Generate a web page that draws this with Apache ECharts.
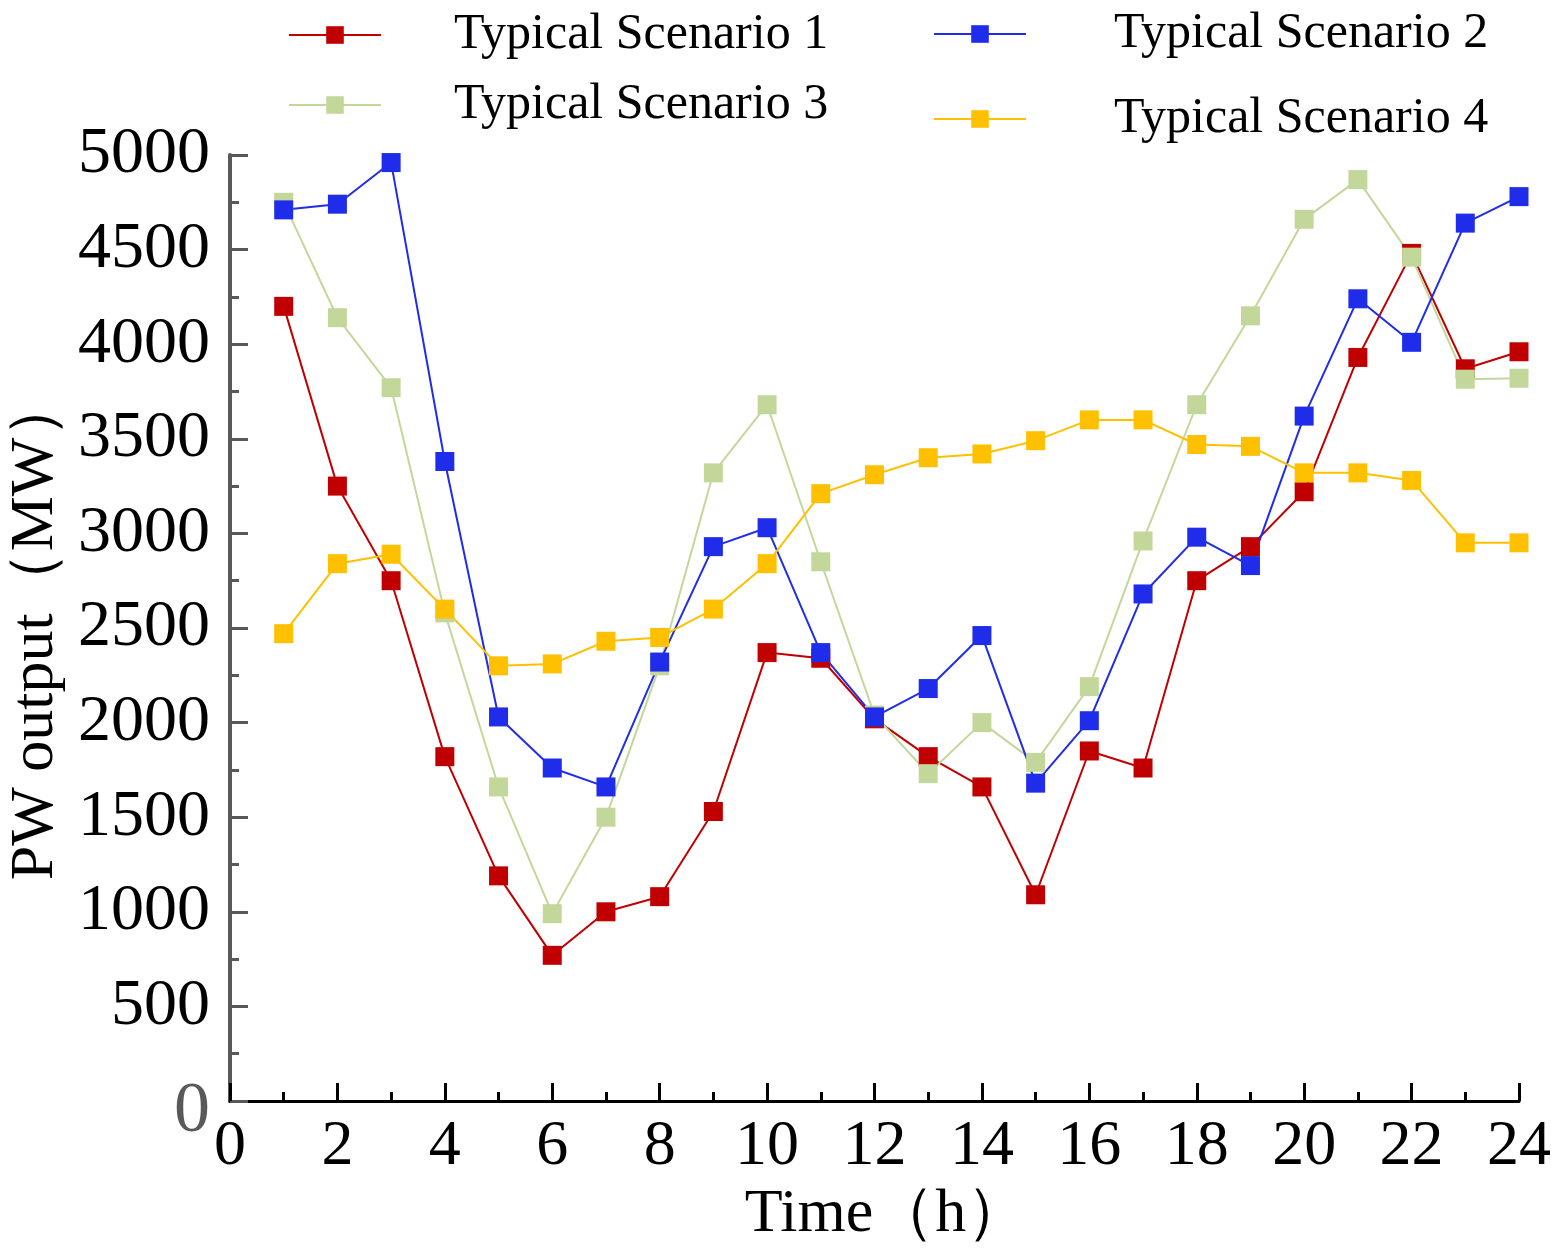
<!DOCTYPE html>
<html>
<head>
<meta charset="utf-8">
<script src="https://cdn.jsdelivr.net/npm/echarts@6/dist/echarts.min.js"></script>
<style>
html, body { margin: 0; padding: 0; background: #fff; }
#main { width: 1561px; height: 1250px; }
</style>
</head>
<body>
<div id="main"></div>
<script>
var hours = [1, 2, 3, 4, 5, 6, 7, 8, 9, 10, 11, 12, 13, 14, 15, 16, 17, 18, 19, 20, 21, 22, 23, 24];
var scenario1 = [4200, 3250, 2750, 1820, 1190, 770, 1000, 1080, 1530, 2370, 2340, 2020, 1820, 1660, 1090, 1850, 1760, 2750, 2930, 3220, 3930, 4480, 3870, 3960];
var scenario2 = [4710, 4740, 4960, 3380, 2030, 1760, 1660, 2320, 2930, 3030, 2370, 2030, 2180, 2460, 1680, 2010, 2680, 2980, 2830, 3620, 4240, 4010, 4640, 4780];
var scenario3 = [4750, 4140, 3770, 2580, 1660, 990, 1500, 2300, 3320, 3680, 2850, 2040, 1730, 2000, 1790, 2190, 2960, 3680, 4150, 4660, 4870, 4460, 3815, 3820];
var scenario4 = [2470, 2840, 2890, 2600, 2300, 2310, 2430, 2450, 2600, 2840, 3210, 3310, 3400, 3420, 3490, 3600, 3600, 3470, 3460, 3320, 3320, 3280, 2950, 2950];
var names = ['Typical Scenario 1', 'Typical Scenario 2', 'Typical Scenario 3', 'Typical Scenario 4'];
var colors = ['#C00000', '#1F2DEB', '#C4D79B', '#FFC000'];

function pairs(vals) {
    var res = [];
    for (var i = 0; i < hours.length; i++) {
        res.push([hours[i], vals[i]]);
    }
    return res;
}

function makeSeries(name, vals, color) {
    return {
        name: name,
        type: 'line',
        data: pairs(vals),
        symbol: 'rect',
        symbolSize: 19,
        lineStyle: { color: color, width: 2 },
        itemStyle: { color: color },
        emphasis: { disabled: true },
        animation: false
    };
}

function makeLegend(name, left, top, pad) {
    return {
        data: [name],
        left: left,
        top: top,
        padding: 0,
        itemWidth: 92,
        itemHeight: 22,
        textStyle: {
            fontFamily: 'Liberation Serif',
            fontSize: 50,
            color: '#000',
            padding: [0, 0, 0, pad]
        }
    };
}

var dom = document.getElementById('main');
var myChart = echarts.init(dom);
var option = {
    backgroundColor: '#fff',
    animation: false,
    color: colors,
    legend: [
        makeLegend(names[0], 288, 10, 68),
        makeLegend(names[1], 933, 9, 83),
        makeLegend(names[2], 288, 80, 68),
        makeLegend(names[3], 933, 94, 83)
    ],
    grid: {
        left: 230,
        right: 42,
        top: 155,
        bottom: 149,
        outerBoundsMode: 'none'
    },
    xAxis: {
        type: 'value',
        min: 0,
        max: 24,
        interval: 2,
        name: 'Time（h）',
        nameLocation: 'middle',
        nameGap: 72,
        nameTextStyle: {
            fontFamily: 'Liberation Serif',
            fontSize: 62,
            color: '#000',
            padding: [0, 0, 0, 24]
        },
        axisLine: { lineStyle: { color: '#000', width: 3 } },
        axisTick: { inside: true, length: 18, lineStyle: { color: '#000', width: 3 } },
        minorTick: { show: true, splitNumber: 2, length: 9, lineStyle: { color: '#000', width: 3 } },
        splitLine: { show: false },
        axisLabel: {
            fontFamily: 'Liberation Serif',
            fontSize: 64,
            color: '#000',
            margin: 14
        }
    },
    yAxis: {
        type: 'value',
        min: 0,
        max: 5000,
        interval: 500,
        name: 'PW output（MW）',
        nameLocation: 'middle',
        nameGap: 163,
        nameRotate: 90,
        nameTextStyle: {
            fontFamily: 'Liberation Serif',
            fontSize: 62,
            color: '#000'
        },
        axisLine: { show: true, lineStyle: { color: '#595959', width: 4 } },
        axisTick: { show: true, inside: true, length: 18, lineStyle: { color: '#595959', width: 3 } },
        minorTick: { show: true, splitNumber: 2, length: 9, lineStyle: { color: '#595959', width: 3 } },
        splitLine: { show: false },
        axisLabel: {
            fontFamily: 'Liberation Serif',
            fontSize: 66,
            color: '#000',
            margin: 20,
            formatter: function (v) {
                return v === 0 ? '{z|0}' : String(v);
            },
            rich: {
                z: {
                    fontFamily: 'Liberation Serif',
                    fontSize: 72,
                    color: '#595959',
                    padding: [22, 0, 0, 0]
                }
            }
        }
    },
    series: [
        makeSeries(names[0], scenario1, colors[0]),
        makeSeries(names[2], scenario3, colors[2]),
        makeSeries(names[1], scenario2, colors[1]),
        makeSeries(names[3], scenario4, colors[3])
    ]
};
if (option && typeof option === "object") {
    myChart.setOption(option, true);
}
</script>
</body>
</html>
